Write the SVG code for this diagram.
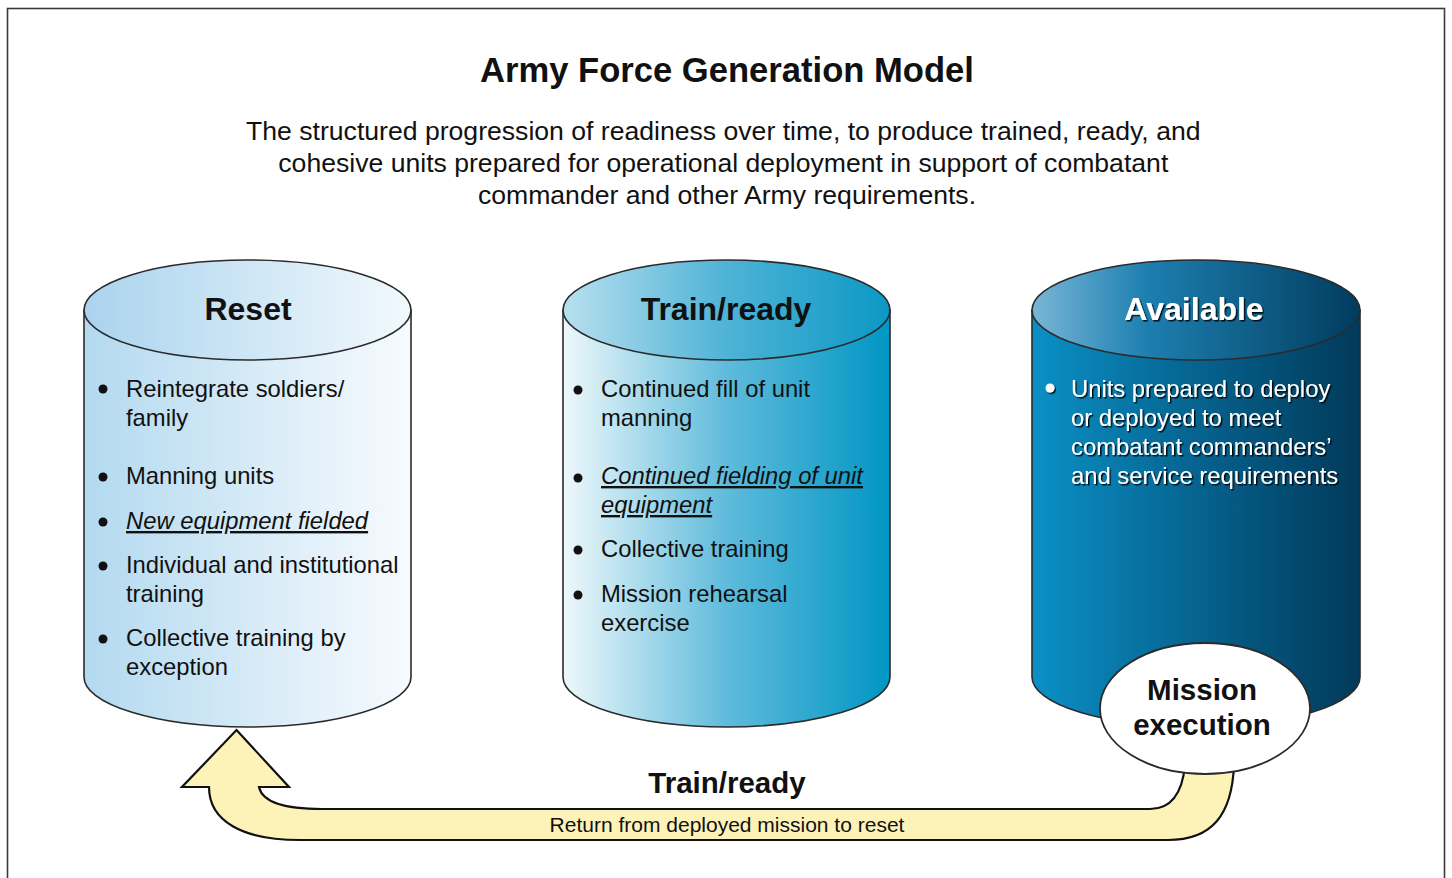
<svg xmlns="http://www.w3.org/2000/svg" width="1452" height="878" viewBox="0 0 1452 878">
<defs>
<linearGradient id="gResetBody" x1="0" y1="0" x2="1" y2="0"><stop offset="0" stop-color="#b3d9f0"/><stop offset="1" stop-color="#f7fbfe"/></linearGradient>
<linearGradient id="gResetTop" x1="0" y1="0" x2="1" y2="0"><stop offset="0" stop-color="#aad3ee"/><stop offset="1" stop-color="#f2f9fd"/></linearGradient>
<linearGradient id="gTrainBody" x1="0" y1="0" x2="1" y2="0"><stop offset="0" stop-color="#eef8fb"/><stop offset="0.5" stop-color="#5fbbdb"/><stop offset="1" stop-color="#0096c4"/></linearGradient>
<linearGradient id="gTrainTop" x1="0" y1="0" x2="1" y2="0"><stop offset="0" stop-color="#b8e0ef"/><stop offset="0.5" stop-color="#4fb3d6"/><stop offset="1" stop-color="#0b98c4"/></linearGradient>
<linearGradient id="gAvBody" x1="0" y1="0" x2="1" y2="0"><stop offset="0" stop-color="#0a90c6"/><stop offset="0.5" stop-color="#06638f"/><stop offset="1" stop-color="#023a5a"/></linearGradient>
<linearGradient id="gAvTop" x1="0" y1="0" x2="1" y2="0"><stop offset="0" stop-color="#79b6d6"/><stop offset="0.35" stop-color="#1d7fb0"/><stop offset="1" stop-color="#023c5e"/></linearGradient>
<filter id="shadow" x="-10%" y="-30%" width="120%" height="160%"><feDropShadow dx="1.5" dy="1.5" stdDeviation="0.6" flood-color="#000000" flood-opacity="0.85"/></filter>
</defs>
<style>
.cyl{stroke:#2b2b2b;stroke-width:1.6}
.hd{font-family:"Liberation Sans",Arial,sans-serif;font-weight:bold;font-size:32px;text-anchor:middle}
.it{font-family:"Liberation Sans",Arial,sans-serif;font-size:23.8px;fill:#111}
.em{font-style:italic;text-decoration:underline}
.wt{fill:#ffffff}
.dot{fill:#111}
.wdot{fill:#ffffff}
</style>
<rect x="7.5" y="8.5" width="1437" height="900" fill="#ffffff" stroke="#3a3a3a" stroke-width="1.6"/>
<g id="title">
<text x="727" y="82" font-family="'Liberation Sans',Arial,sans-serif" font-weight="bold" font-size="34.6" text-anchor="middle" fill="#111">Army Force Generation Model</text>
<text font-family="'Liberation Sans',Arial,sans-serif" font-size="26.6" text-anchor="middle" fill="#111">
<tspan x="727" y="140">The structured progression of readiness over time, to produce trained, ready, and</tspan>
<tspan x="727" y="172">cohesive units prepared for operational deployment in support of combatant</tspan>
<tspan x="727" y="204">commander and other Army requirements.</tspan>
</text>
</g>
<g id="reset">
<path class="cyl" fill="url(#gResetBody)" d="M84,310 L84,677 A163.5,50 0 0 0 411,677 L411,310 Z"/>
<ellipse class="cyl" fill="url(#gResetTop)" cx="247.5" cy="310" rx="163.5" ry="50"/>
<text class="hd" x="248" y="320" fill="#111">Reset</text>
<circle class="dot" cx="103" cy="389" r="4.5"/>
<text class="it"><tspan x="126" y="397">Reintegrate soldiers/</tspan><tspan x="126" y="426">family</tspan></text>
<circle class="dot" cx="103" cy="477" r="4.5"/>
<text class="it" x="126" y="484">Manning units</text>
<circle class="dot" cx="103" cy="522" r="4.5"/>
<text class="it em" x="126" y="529">New equipment fielded</text>
<circle class="dot" cx="103" cy="566" r="4.5"/>
<text class="it"><tspan x="126" y="573">Individual and institutional</tspan><tspan x="126" y="602">training</tspan></text>
<circle class="dot" cx="103" cy="639" r="4.5"/>
<text class="it"><tspan x="126" y="646">Collective training by</tspan><tspan x="126" y="675">exception</tspan></text>
</g>
<g id="trainready">
<path class="cyl" fill="url(#gTrainBody)" d="M563,310 L563,677 A163.5,50 0 0 0 890,677 L890,310 Z"/>
<ellipse class="cyl" fill="url(#gTrainTop)" cx="726.5" cy="310" rx="163.5" ry="50"/>
<text class="hd" x="726" y="320" fill="#111">Train/ready</text>
<circle class="dot" cx="578" cy="390" r="4.5"/>
<text class="it"><tspan x="601" y="397">Continued fill of unit</tspan><tspan x="601" y="426">manning</tspan></text>
<circle class="dot" cx="578" cy="478" r="4.5"/>
<text class="it em"><tspan x="601" y="484">Continued fielding of unit</tspan><tspan x="601" y="513">equipment</tspan></text>
<circle class="dot" cx="578" cy="550" r="4.5"/>
<text class="it" x="601" y="557">Collective training</text>
<circle class="dot" cx="578" cy="595" r="4.5"/>
<text class="it"><tspan x="601" y="602">Mission rehearsal</tspan><tspan x="601" y="631">exercise</tspan></text>
</g>
<g id="available">
<path class="cyl" fill="url(#gAvBody)" d="M1032,310 L1032,677 A164,50 0 0 0 1360,677 L1360,310 Z"/>
<ellipse class="cyl" fill="url(#gAvTop)" cx="1196" cy="310" rx="164" ry="50"/>
<text class="hd wt" x="1194" y="320" filter="url(#shadow)">Available</text>
<circle class="wdot" cx="1050" cy="388" r="4.5" filter="url(#shadow)"/>
<text class="it wt" filter="url(#shadow)"><tspan x="1071" y="397">Units prepared to deploy</tspan><tspan x="1071" y="426">or deployed to meet</tspan><tspan x="1071" y="455">combatant commanders’</tspan><tspan x="1071" y="484">and service requirements</tspan></text>
</g>
<g id="connectors">
<path d="M236.5,730 L289,787 L259,787 C262,801 282,809 322,809 L1150,809 C1170,809 1182,796 1185,765 L1234,765 C1232,815 1212,840 1168,840 L300,840 C242,840 209,821 209,787 L182,787 Z" fill="#fdf3b9" stroke="#111" stroke-width="2.2" stroke-linejoin="miter"/>
<text x="727" y="793" font-family="'Liberation Sans',Arial,sans-serif" font-weight="bold" font-size="29.5" text-anchor="middle" fill="#111">Train/ready</text>
<text x="727" y="832" font-family="'Liberation Sans',Arial,sans-serif" font-size="21" text-anchor="middle" fill="#111">Return from deployed mission to reset</text>
</g>
<g id="mission">
<ellipse cx="1205" cy="708.5" rx="105" ry="65.5" fill="#ffffff" stroke="#2b2b2b" stroke-width="1.8"/>
<text font-family="'Liberation Sans',Arial,sans-serif" font-weight="bold" font-size="29.5" text-anchor="middle" fill="#111"><tspan x="1202" y="700">Mission</tspan><tspan x="1202" y="735">execution</tspan></text>
</g>
</svg>
